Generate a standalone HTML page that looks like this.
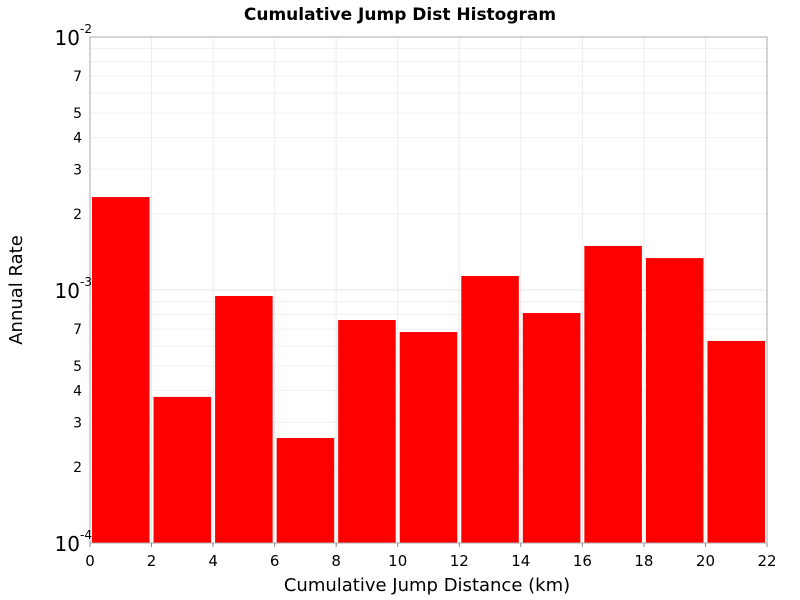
<!DOCTYPE html>
<html><head><meta charset="utf-8"><style>
body{margin:0;background:#fff;}
svg{display:block;font-family:"DejaVu Sans","Liberation Sans",sans-serif;}
</style></head><body>
<svg id="chart" width="800" height="600">
<rect x="0" y="0" width="800" height="600" fill="#fff"/>
<text x="400" y="20" text-anchor="middle" font-size="17" font-weight="bold">Cumulative Jump Dist Histogram</text>
<g id="grid"></g>
<g id="bars"></g>
<rect x="90" y="37" width="677" height="506" fill="none" stroke="#aaa"/>
<g id="axes"></g>
<text x="427" y="591" text-anchor="middle" font-size="18">Cumulative Jump Distance (km)</text>
<text transform="translate(22,290) rotate(-90)" text-anchor="middle" font-size="18">Annual Rate</text>
</svg>
<script>
const binStarts=[0,2,4,6,8,10,12,14,16,18,20];
const binWidth=2;
const rates=[2.33e-3,0.378e-3,0.947e-3,0.26e-3,0.761e-3,0.682e-3,1.136e-3,0.811e-3,1.493e-3,1.337e-3,0.629e-3];
const xTicks=[0,2,4,6,8,10,12,14,16,18,20,22];
const decades=[-4,-3,-2];
const minorMult=[2,3,4,5,6,7,8,9];
const minorLabels=[2,3,4,5,7];

const X0=90,X1=767,Y0=543,Y1=37,xmin=0,xmax=22,lmin=-4,lmax=-2;
const sx=v=>X0+(v-xmin)/(xmax-xmin)*(X1-X0);
const sy=v=>Y0-(Math.log10(v)-lmin)/(lmax-lmin)*(Y0-Y1);
const NS="http://www.w3.org/2000/svg";
function mk(tag,attrs,parent){const e=document.createElementNS(NS,tag);for(const k in attrs)e.setAttribute(k,attrs[k]);parent.appendChild(e);return e;}
const grid=document.getElementById('grid'),bars=document.getElementById('bars'),axes=document.getElementById('axes');

xTicks.forEach(t=>{
  const l=mk('line',{x1:sx(t),x2:sx(t),y1:Y1,y2:Y0,stroke:'#ececec'},grid);
  
  
  const tk=mk('line',{x1:sx(t),x2:sx(t),y1:Y0,y2:Y0+4,stroke:'#888'},axes);
  
  
  const tx=mk('text',{x:sx(t),y:566,'text-anchor':'middle','font-size':15},axes);
  tx.textContent=t;
  
  
});
decades.forEach(d=>{
  const v=Math.pow(10,d);
  const y=sy(v);
  const l=mk('line',{x1:X0,x2:X1,y1:y,y2:y,stroke:'#e4e4e4'},grid);
  
  
  const tx=mk('text',{x:80,y:y+8,'text-anchor':'end','font-size':20},axes);
  tx.textContent='10';
  
  
  const sup=mk('text',{x:80,y:y-4,'text-anchor':'start','font-size':12},axes);
  sup.textContent=d;
  
  
  if(d<lmax){
    minorMult.forEach(m=>{
      const yy=sy(m*v);
      const g=mk('line',{x1:X0,x2:X1,y1:yy,y2:yy,stroke:'#f0f0f0'},grid);
      
      
      if(minorLabels.includes(m)){
        const t=mk('text',{x:82,y:yy+5,'text-anchor':'end','font-size':14},axes);
        t.textContent=m;
        
        
      }
    });
  }
});
binStarts.forEach((s,i)=>{
  const x=sx(s)+2,w=sx(s+binWidth)-sx(s)-4,y=sy(rates[i]);
  const r=mk('rect',{x:x,y:y,width:w,height:Y0-y,fill:'#ff0000'},bars);
  
  
});
</script>
</body></html>
